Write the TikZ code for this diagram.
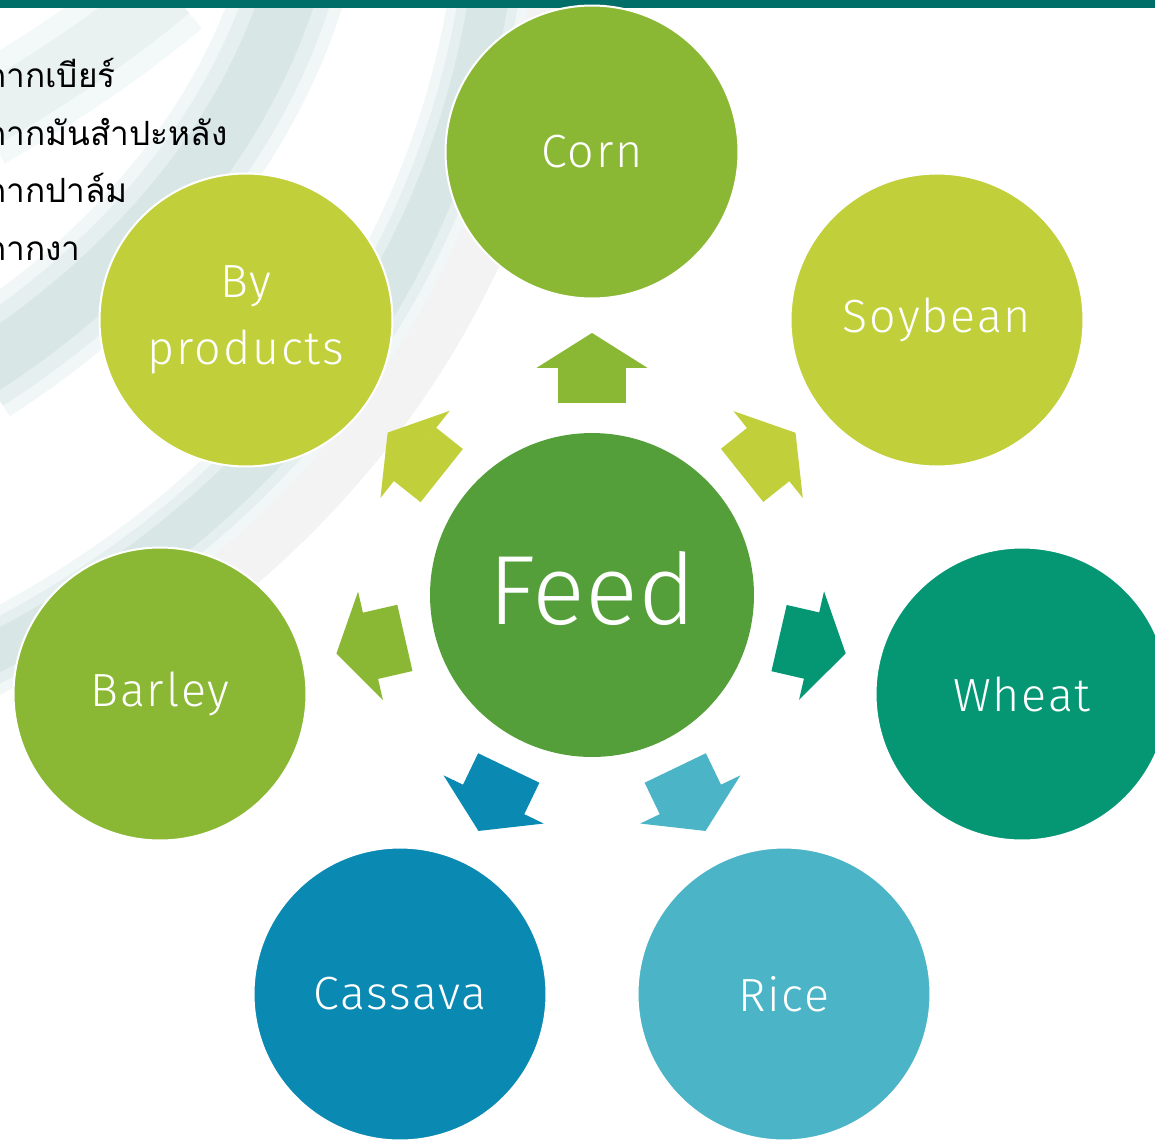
\documentclass[tikz,border=0pt]{standalone}
\usepackage{fontspec}
\setmainfont{Fira Sans Light}
\newfontfamily\thaifont[Script=Thai]{Loma}
\usetikzlibrary{arrows.meta}

\definecolor{topbar}{HTML}{006E68}
\definecolor{swoosh}{HTML}{D8E6E6}
\definecolor{greyband}{HTML}{F3F3F3}
\definecolor{feedcol}{HTML}{559F3A}
\definecolor{corncol}{HTML}{8BB834}
\definecolor{bycol}{HTML}{C1D03A}
\definecolor{wheatcol}{HTML}{059674}
\definecolor{ricecol}{HTML}{4BB4C6}
\definecolor{cassavacol}{HTML}{0A89B2}

\tikzset{
	crop/.style={circle, draw=white, line width=0.04cm, minimum size=5.86cm, inner sep=0pt,
		text=white, align=center, font=\fontsize{26.5}{38}\selectfont\addfontfeatures{LetterSpace=4}},
	flow/.style={line width=1.36cm, -{Triangle[width=2.22cm, length=0.7cm, line width=1pt]},
		shorten <=3.84cm, shorten >=3.62cm},
	note/.style={anchor=base west, inner sep=0pt, font=\thaifont\fontsize{19}{23}\selectfont},
}

\begin{document}
\begin{tikzpicture}[x=0.02cm, y=-0.02cm]
		\useasboundingbox (0, 0) rectangle (1155, 1140);
		\clip (0, 0) rectangle (1155, 1140);

		% background
		\draw[greyband, line width=1.4cm] (545, -10) .. controls (505, 260) and (355, 520) .. (40, 690);
		\draw[swoosh!30, line width=2cm] (170, -10) .. controls (110, 40) and (50, 80) .. (-20, 120);
		\draw[swoosh!55, line width=1.2cm] (170, -10) .. controls (110, 40) and (50, 80) .. (-20, 120);
		\draw[swoosh!35, line width=2.2cm] (290, -10) .. controls (240, 150) and (120, 280) .. (-20, 370);
		\draw[swoosh!65, line width=1.7cm] (290, -10) .. controls (240, 150) and (120, 280) .. (-20, 370);
		\draw[swoosh, line width=1.1cm] (290, -10) .. controls (240, 150) and (120, 280) .. (-20, 370);
		\draw[swoosh!35, line width=1.6cm] (490, -10) .. controls (450, 250) and (300, 500) .. (-20, 660);
		\draw[swoosh!65, line width=1.2cm] (490, -10) .. controls (450, 250) and (300, 500) .. (-20, 660);
		\draw[swoosh, line width=0.8cm] (490, -10) .. controls (450, 250) and (300, 500) .. (-20, 660);
		\fill[topbar] (0, 0) rectangle (1155, 8);

		\node[note] (kak1) at (-14, 87) {กากเบียร์};
		\node[note] (kak2) at (-14, 145) {กากมันสำปะหลัง};
		\node[note] (kak3) at (-14, 202) {กากปาล์ม};
		\node[note] (kak4) at (-14, 260) {กากงา};

		\node[circle, fill=feedcol, minimum size=6.48cm, inner sep=0pt, text=white,
			text depth=0.3cm, font=\fontsize{56}{60}\selectfont] (feed) at (592, 595) {Feed};

		\node[crop, fill=corncol] (corn) at (592, 152) {Corn};
		\node[crop, fill=bycol] (soybean) at (937, 320) {Soybean};
		\node[crop, fill=wheatcol] (wheat) at (1022, 694) {Wheat};
		\node[crop, fill=ricecol] (rice) at (784, 994) {Rice};
		\node[crop, fill=cassavacol] (cassava) at (400, 994) {Cassava};
		\node[crop, fill=corncol] (barley) at (160, 694) {Barley};
		\node[crop, fill=bycol] (byprod) at (246, 320) {By\\products};

		\draw[flow, corncol] (feed.center) -- (corn.center);
		\draw[flow, bycol] (feed.center) -- (soybean.center);
		\draw[flow, wheatcol] (feed.center) -- (wheat.center);
		\draw[flow, ricecol] (feed.center) -- (rice.center);
		\draw[flow, cassavacol] (feed.center) -- (cassava.center);
		\draw[flow, corncol] (feed.center) -- (barley.center);
		\draw[flow, bycol] (feed.center) -- (byprod.center);
	\end{tikzpicture}
\end{document}
